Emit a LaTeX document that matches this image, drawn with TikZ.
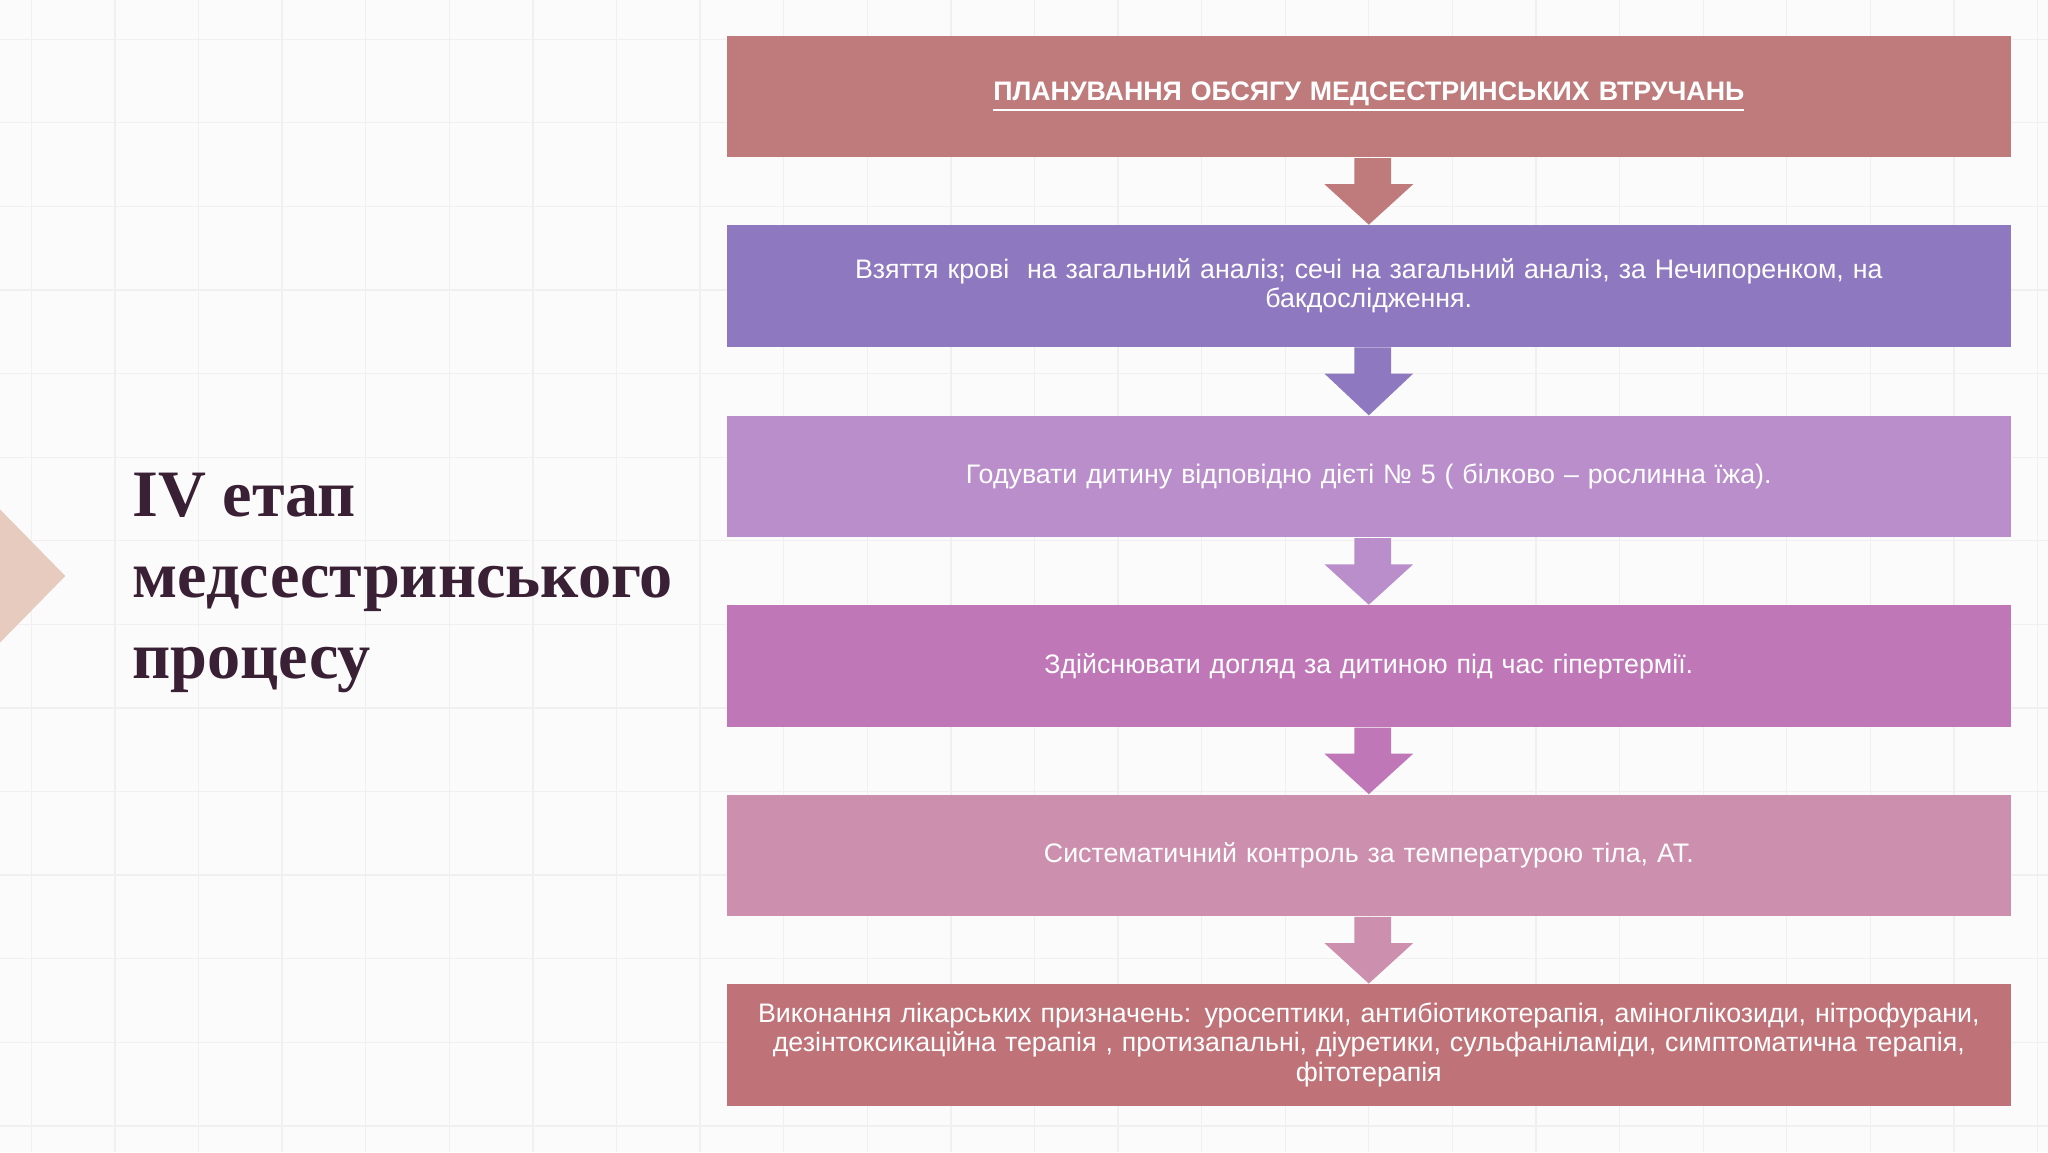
\documentclass[tikz,border=0pt]{standalone}
\usepackage{fontspec}
\setmainfont{Liberation Sans}
\newfontfamily\serifb{Liberation Serif}
\usetikzlibrary{calc}
\definecolor{bgc}{HTML}{FBFBFB}
\definecolor{gridc}{HTML}{F0F0F0}
\definecolor{cA}{HTML}{BF7B7B}
\definecolor{cB}{HTML}{8E79C0}
\definecolor{cC}{HTML}{B98ECB}
\definecolor{cD}{HTML}{C077B8}
\definecolor{cE}{HTML}{CD8FAE}
\definecolor{cF}{HTML}{BF7378}
\definecolor{tri}{HTML}{E6CBBE}
\definecolor{titc}{HTML}{3A2034}
\begin{document}
\begin{tikzpicture}[x=0.4pt,y=-0.4pt,
  stepbox/.style={minimum width=982*0.4pt,minimum height=93*0.4pt,inner sep=1pt,text=white,align=center,font=\fontsize{8.2}{8.9}\selectfont,anchor=north west,text width=978*0.4pt}]
\fill[bgc] (0,0) rectangle (1568,882);
\useasboundingbox (0,0) rectangle (1568,882);
\foreach \x in {24,88,152,216,280,344,408,472,536,600,664,728,792,856,920,984,1048,1112,1176,1240,1304,1368,1432,1496,1560}
  \draw[gridc,line width=0.4pt] (\x,0) -- (\x,882);
\foreach \y in {30,94,158,222,286,350,414,478,542,606,670,734,798,862}
  \draw[gridc,line width=0.4pt] (0,\y) -- (1568,\y);
\fill[tri] (0,390) -- (50,441) -- (0,492) -- cycle;
\node[anchor=north west,align=left,text=titc,font=\serifb\bfseries\fontsize{20.3}{24.8}\selectfont,inner sep=0pt] (title) at (101,362) {IV етап\\медсестринського\\процесу};
\node[stepbox,fill=cA] (b1) at (556,27) {\bfseries\underline{ПЛАНУВАННЯ ОБСЯГУ МЕДСЕСТРИНСЬКИХ ВТРУЧАНЬ}};
\node[stepbox,fill=cB] (b2) at (556,172) {Взяття крові\ \ на загальний аналіз; сечі на загальний аналіз, за Нечипоренком, на\\бакдослідження.};
\node[stepbox,fill=cC] (b3) at (556,318) {Годувати дитину відповідно дієті № 5 ( білково – рослинна їжа).};
\node[stepbox,fill=cD] (b4) at (556,463) {Здійснювати догляд за дитиною під час гіпертермії.};
\node[stepbox,fill=cE] (b5) at (556,608) {Систематичний контроль за температурою тіла, АТ.};
\node[stepbox,fill=cF] (b6) at (556,753) {Виконання лікарських призначень: уросептики, антибіотикотерапія, аміноглікозиди, нітрофурани,\\дезінтоксикаційна терапія , протизапальні, діуретики, сульфаніламіди, симптоматична терапія,\\фітотерапія};
\foreach \a/\b/\c in {b1/b2/cA,b2/b3/cB,b3/b4/cC,b4/b5/cD,b5/b6/cE}{
  \fill[\c] ($(\a.south)+(-11,0)$) -- ($(\a.south)+(17,0)$) -- ($(\a.south)+(17,20)$) -- ($(\a.south)+(34,20)$)
    -- (\b.north -| \a.south) -- ($(\a.south)+(-34,20)$) -- ($(\a.south)+(-11,20)$) -- cycle;
}
\end{tikzpicture}
\end{document}
